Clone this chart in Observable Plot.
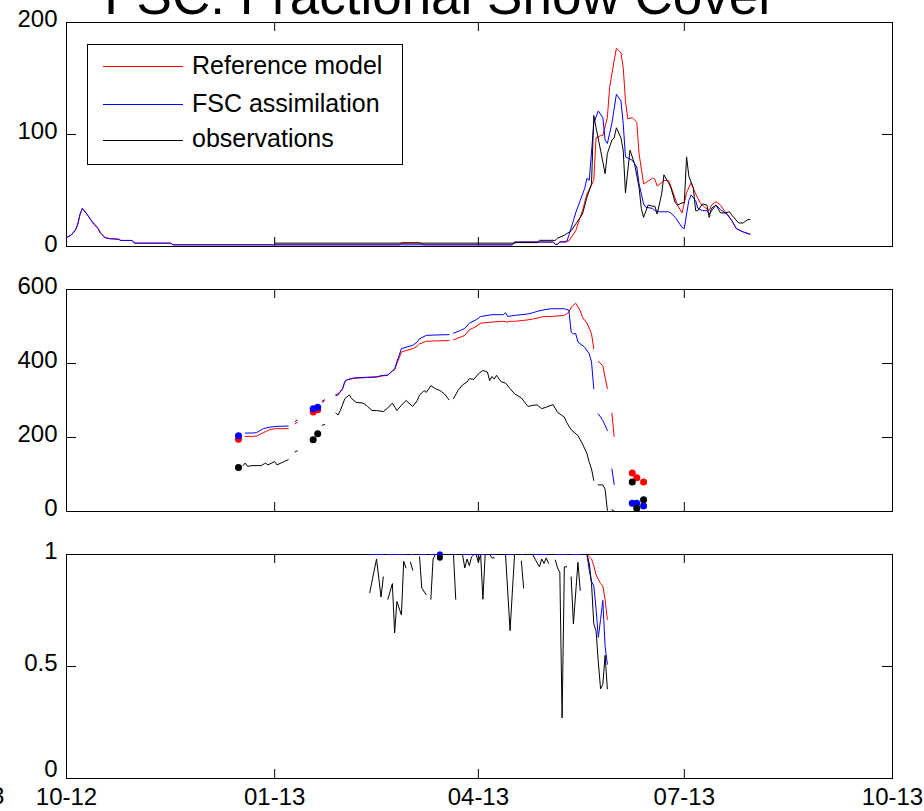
<!DOCTYPE html>
<html>
<head>
<meta charset="utf-8">
<script src="https://cdn.jsdelivr.net/npm/d3@7"></script>
<script src="https://cdn.jsdelivr.net/npm/@observablehq/plot@0.6"></script>
<style>
  html, body { margin: 0; padding: 0; background: #fff; }
  #fig { position: relative; width: 924px; height: 811px; overflow: hidden;
         font-family: "Liberation Sans", Arial, Helvetica, sans-serif; color: #000; }
  .panel { position: absolute; left: 0; }
  #title { position: absolute; left: 0; width: 880px; top: -31px; text-align: center;
           font-size: 53px; line-height: 53px; white-space: nowrap; z-index: 5; }
  #stray { position: absolute; left: -9px; top: 784px; font-size: 24px; line-height: 24px; }
  #legend { position: absolute; left: 87px; top: 44px; width: 314px; height: 119px;
            border: 1px solid #000; background: #fff; z-index: 4; }
  #legend .sw { position: absolute; left: 15px; width: 80px; height: 0; border-top: 1px solid; }
  #legend .lb { position: absolute; left: 104px; font-size: 25px; line-height: 25px; white-space: nowrap; }
</style>
</head>
<body>
<div id="fig">
  <div id="p1" class="panel" style="top:0px"></div>
  <div id="p2" class="panel" style="top:265px"></div>
  <div id="p3" class="panel" style="top:530px"></div>
  <div id="title">FSC: Fractional Snow Cover</div>
  <div id="stray">3</div>
  <div id="legend"></div>
</div>
<script>
// ---- axis settings ----
const axisDates = ["2012-10-01", "2013-01-01", "2013-04-01", "2013-07-01", "2013-10-01"];
const axisDateFormat = "%m-%y";
const dischargeTicks = [0, 100, 200];
const sweTicks = [0, 200, 400, 600];
const fscTicks = [0, 0.5, 1];

const seriesNames = ["Reference model", "FSC assimilation", "observations"];
const seriesColors = ["#ff0000", "#0000ff", "#000000"];

// ---- top panel: [date, value] ----
const dischargeRef = [
  ["2012-10-01",8],["2012-10-03",10],["2012-10-05",15],["2012-10-06",20],["2012-10-07",29],["2012-10-08",34],
  ["2012-10-10",29],["2012-10-12",23],["2012-10-13",21],["2012-10-15",16],["2012-10-16",12],["2012-10-18",8],
  ["2012-10-20",7],["2012-10-24",6.5],["2012-10-25",5.4],["2012-10-30",5.4],["2012-10-31",3],["2012-11-16",3],
  ["2012-11-17",1.5],["2013-02-25",1.5],["2013-02-26",3.5],["2013-03-06",3.5],["2013-03-08",1.5],["2013-04-16",1.5],
  ["2013-04-17",4],["2013-05-04",4],["2013-05-05",2],["2013-05-06",2],["2013-05-07",4],["2013-05-11",5],
  ["2013-05-14",14],["2013-05-17",32],["2013-05-19",47],["2013-05-22",59],["2013-05-23",97],["2013-05-25",99],
  ["2013-05-26",99],["2013-05-28",115],["2013-05-29",142],["2013-05-31",166],["2013-06-01",177],["2013-06-03",173],
  ["2013-06-04",160],["2013-06-05",130],["2013-06-06",114],["2013-06-08",115],["2013-06-10",111],["2013-06-11",83],
  ["2013-06-13",56],["2013-06-14",57],["2013-06-17",61],["2013-06-18",60],["2013-06-19",54],["2013-06-21",57],
  ["2013-06-22",59],["2013-06-24",59],["2013-06-25",54],["2013-06-28",37],["2013-06-30",30],["2013-07-02",48],
  ["2013-07-04",57],["2013-07-06",47],["2013-07-08",39],["2013-07-10",35],["2013-07-12",32],["2013-07-13",37],
  ["2013-07-15",40],["2013-07-17",37],["2013-07-19",31],["2013-07-22",23],["2013-07-24",16],["2013-07-27",13],
  ["2013-07-30",11]
];
const dischargeAssim = [
  ["2012-10-01",8],["2012-10-03",10],["2012-10-05",15],["2012-10-06",20],["2012-10-07",29],["2012-10-08",34],
  ["2012-10-10",29],["2012-10-12",23],["2012-10-13",20],["2012-10-15",16],["2012-10-16",12],["2012-10-18",8],
  ["2012-10-20",7],["2012-10-24",6.5],["2012-10-25",5.4],["2012-10-30",5.4],["2012-10-31",3],["2012-11-16",3],
  ["2012-11-17",1.5],["2013-04-16",1.5],["2013-04-17",4],["2013-05-04",4],["2013-05-05",2],["2013-05-06",2],
  ["2013-05-07",4],["2013-05-10",4],["2013-05-11",10],["2013-05-13",23],["2013-05-14",30],["2013-05-16",41],
  ["2013-05-18",52],["2013-05-19",61],["2013-05-20",59],["2013-05-22",110],["2013-05-24",121],["2013-05-26",115],
  ["2013-05-27",95],["2013-05-28",92],["2013-05-30",110],["2013-06-01",136],["2013-06-03",130],["2013-06-04",110],
  ["2013-06-05",80],["2013-06-08",77],["2013-06-10",71],["2013-06-11",56],["2013-06-13",38],["2013-06-14",35],
  ["2013-06-17",34],["2013-06-18",32],["2013-06-20",31],["2013-06-24",31],["2013-06-25",30],["2013-06-27",26],
  ["2013-06-30",17],["2013-07-01",16],["2013-07-02",29],["2013-07-03",41],["2013-07-04",46],["2013-07-06",41],
  ["2013-07-07",34],["2013-07-09",32],["2013-07-11",32],["2013-07-12",29],["2013-07-15",37],["2013-07-17",33],
  ["2013-07-19",30],["2013-07-20",29],["2013-07-22",23],["2013-07-24",16],["2013-07-27",13],["2013-07-30",11]
];
const dischargeObs = [
  ["2013-01-01",3],["2013-04-17",3],["2013-04-18",3.5],["2013-04-27",3.5],["2013-04-28",5.5],["2013-05-05",5.5],
  ["2013-05-06",7.5],["2013-05-09",10],["2013-05-12",14],["2013-05-14",20],["2013-05-17",29],["2013-05-19",44],
  ["2013-05-21",56],["2013-05-22",117],["2013-05-23",106],["2013-05-25",86],["2013-05-27",65],["2013-05-28",83],
  ["2013-05-30",95],["2013-05-31",97],["2013-06-01",106],["2013-06-03",97],["2013-06-04",86],["2013-06-05",48],
  ["2013-06-07",86],["2013-06-09",74],["2013-06-11",53],["2013-06-12",34],["2013-06-13",26],["2013-06-15",37],
  ["2013-06-17",36],["2013-06-18",36],["2013-06-19",29],["2013-06-21",47],["2013-06-22",64],["2013-06-24",57],
  ["2013-06-25",53],["2013-06-27",39],["2013-06-28",37],["2013-06-30",39],["2013-07-01",39],["2013-07-02",80],
  ["2013-07-03",63],["2013-07-05",52],["2013-07-06",32],["2013-07-07",32],["2013-07-09",38],["2013-07-11",37],
  ["2013-07-12",26],["2013-07-13",34],["2013-07-15",37],["2013-07-17",30],["2013-07-19",30],["2013-07-21",31],
  ["2013-07-22",28],["2013-07-25",21],["2013-07-27",21],["2013-07-29",24],["2013-07-30",24]
];

// ---- middle panel: snow water equivalent, [date, value]; null marks a missing day ----
const sweRef = [
  ["2012-12-19",203],["2012-12-22",203],["2012-12-24",204],["2012-12-27",213],["2012-12-30",222],["2013-01-02",224],
  ["2013-01-07",224],["2013-01-08",null],["2013-01-10",237],["2013-01-11",241],["2013-01-12",null],
  ["2013-01-22",295],["2013-01-23",299],["2013-01-24",null],
  ["2013-01-28",316],["2013-01-29",318],["2013-01-31",332],["2013-02-01",350],["2013-02-02",356],["2013-02-05",360],
  ["2013-02-11",362],["2013-02-15",363],["2013-02-17",366],["2013-02-20",368],["2013-02-22",380],["2013-02-23",383],
  ["2013-02-24",400],["2013-02-26",431],["2013-02-28",435],["2013-03-03",440],["2013-03-05",447],["2013-03-06",453],
  ["2013-03-09",460],["2013-03-13",461],["2013-03-19",462],["2013-03-20",null],["2013-03-21",464],["2013-03-24",471],
  ["2013-03-26",476],["2013-03-28",491],["2013-03-31",500],["2013-04-02",509],["2013-04-07",512],["2013-04-12",514],
  ["2013-04-14",512],["2013-04-15",514],["2013-04-17",514],["2013-04-23",518],["2013-04-25",520],["2013-04-27",523],
  ["2013-04-30",527],["2013-05-03",527],["2013-05-09",530],["2013-05-11",539],["2013-05-12",552],["2013-05-14",563],
  ["2013-05-16",543],["2013-05-17",525],["2013-05-19",509],["2013-05-21",480],["2013-05-22",440],["2013-05-23",null],
  ["2013-05-24",406],["2013-05-26",394],["2013-05-28",332],["2013-05-29",null],["2013-05-30",266],["2013-05-31",203]
];
const sweAssim = [
  ["2012-12-19",212],["2012-12-22",212],["2012-12-24",213],["2012-12-27",224],["2012-12-30",228],["2013-01-02",230],
  ["2013-01-07",231],["2013-01-08",null],["2013-01-10",243],["2013-01-11",247],["2013-01-12",null],
  ["2013-01-22",298],["2013-01-23",302],["2013-01-24",null],
  ["2013-01-28",313],["2013-01-29",315],["2013-01-31",332],["2013-02-01",352],["2013-02-02",356],["2013-02-05",361],
  ["2013-02-11",363],["2013-02-15",364],["2013-02-17",367],["2013-02-20",369],["2013-02-22",380],["2013-02-23",385],
  ["2013-02-24",405],["2013-02-26",440],["2013-02-28",444],["2013-03-03",449],["2013-03-05",458],["2013-03-06",467],
  ["2013-03-09",476],["2013-03-13",477],["2013-03-19",478],["2013-03-20",null],["2013-03-21",482],["2013-03-24",489],
  ["2013-03-26",495],["2013-03-28",509],["2013-03-31",518],["2013-04-02",527],["2013-04-07",532],["2013-04-12",532],
  ["2013-04-13",537],["2013-04-14",527],["2013-04-17",530],["2013-04-23",534],["2013-04-25",537],["2013-04-27",541],
  ["2013-04-30",545],["2013-05-03",548],["2013-05-09",548],["2013-05-11",544],["2013-05-12",485],["2013-05-13",480],
  ["2013-05-14",481],["2013-05-15",458],["2013-05-18",444],["2013-05-20",426],["2013-05-21",404],["2013-05-22",332],
  ["2013-05-23",null],["2013-05-24",264],["2013-05-26",246],["2013-05-28",219],["2013-05-29",null],
  ["2013-05-30",115],["2013-05-31",73]
];
const sweObs = [
  ["2012-12-18",124],["2012-12-19",131],["2012-12-20",122],["2012-12-22",124],["2012-12-26",124],["2012-12-28",131],
  ["2012-12-29",126],["2013-01-01",135],["2013-01-02",126],["2013-01-07",140],["2013-01-08",null],
  ["2013-01-10",161],["2013-01-11",164],["2013-01-12",null],["2013-01-22",233],["2013-01-23",235],["2013-01-24",null],
  ["2013-01-28",266],["2013-01-29",261],["2013-01-30",273],["2013-02-01",305],["2013-02-03",315],["2013-02-04",305],
  ["2013-02-06",295],["2013-02-09",293],["2013-02-11",284],["2013-02-13",273],["2013-02-15",273],["2013-02-18",270],
  ["2013-02-20",280],["2013-02-22",293],["2013-02-24",273],["2013-02-26",287],["2013-02-28",300],["2013-03-03",284],
  ["2013-03-05",300],["2013-03-06",314],["2013-03-08",327],["2013-03-09",322],["2013-03-11",340],["2013-03-13",332],
  ["2013-03-15",327],["2013-03-17",318],["2013-03-19",302],["2013-03-20",null],["2013-03-21",305],["2013-03-23",327],
  ["2013-03-25",342],["2013-03-27",350],["2013-03-28",359],["2013-03-30",357],["2013-04-01",372],["2013-04-03",381],
  ["2013-04-05",377],["2013-04-06",354],["2013-04-07",365],["2013-04-08",358],["2013-04-09",368],["2013-04-11",351],
  ["2013-04-13",347],["2013-04-15",332],["2013-04-17",318],["2013-04-20",307],["2013-04-22",291],["2013-04-23",284],
  ["2013-04-25",287],["2013-04-27",288],["2013-04-29",278],["2013-05-01",282],["2013-05-04",289],["2013-05-06",268],
  ["2013-05-09",255],["2013-05-10",241],["2013-05-12",221],["2013-05-15",205],["2013-05-17",183],["2013-05-19",156],
  ["2013-05-20",133],["2013-05-21",115],["2013-05-22",84],["2013-05-23",null],["2013-05-24",72],["2013-05-26",72],
  ["2013-05-27",60],["2013-05-28",3],["2013-05-29",null],["2013-05-30",5],["2013-05-31",1]
];
// isolated days, drawn as dots
const sweRefDots = [["2012-12-16",195],["2013-01-18",269],["2013-01-20",275],["2013-06-08",104],["2013-06-10",91],["2013-06-13",80]];
const sweAssimDots = [["2012-12-16",205],["2013-01-18",278],["2013-01-20",282],["2013-06-08",22],["2013-06-10",22],["2013-06-13",15]];
const sweObsDots = [["2012-12-16",119],["2013-01-18",194],["2013-01-20",210],["2013-06-08",80],["2013-06-10",9],["2013-06-13",32]];

// ---- bottom panel: fractional snow cover on shared dates; null rows are gaps ----
const fscDates = [
  "2013-02-12","2013-02-15","2013-02-17","2013-02-18","2013-02-19",
  "2013-02-20","2013-02-22","2013-02-23","2013-02-24","2013-02-26","2013-02-27","2013-02-28","2013-03-01",
  "2013-03-02","2013-03-03","2013-03-04",
  "2013-03-06","2013-03-07","2013-03-09","2013-03-10",
  "2013-03-11","2013-03-12","2013-03-13","2013-03-14",
  "2013-03-17","2013-03-21","2013-03-22","2013-03-23",
  "2013-03-25","2013-03-26","2013-03-27","2013-03-28","2013-03-29","2013-03-30","2013-03-31","2013-04-01",
  "2013-04-02","2013-04-03","2013-04-04","2013-04-06","2013-04-07","2013-04-08","2013-04-09",
  "2013-04-13","2013-04-15","2013-04-17","2013-04-18","2013-04-19",
  "2013-04-20","2013-04-21","2013-04-22",
  "2013-04-25","2013-04-26","2013-04-28","2013-04-29","2013-04-30","2013-05-01","2013-05-02","2013-05-03",
  "2013-05-05","2013-05-06","2013-05-07","2013-05-08","2013-05-09","2013-05-10","2013-05-11",
  "2013-05-12","2013-05-13","2013-05-15","2013-05-16","2013-05-17",
  "2013-05-19","2013-05-20","2013-05-21","2013-05-22","2013-05-23","2013-05-24","2013-05-25","2013-05-26",
  "2013-05-27","2013-05-28"
];
const fscObs = [
  0.83,0.98,0.81,0.90,null,
  0.80,0.87,0.65,0.79,0.73,0.97,0.94,null,
  0.965,0.93,null,
  0.99,0.85,0.82,null,
  0.80,0.98,1,null,
  1,1,0.80,null,
  1,0.94,0.98,0.95,0.99,1,1,0.965,
  1,0.80,1,1,0.985,0.985,null,
  1,0.66,1,1,null,
  0.97,0.85,null,
  1,0.98,0.945,0.98,0.96,0.985,0.96,null,
  0.975,0.94,0.92,0.27,0.945,0.945,null,
  0.90,0.69,0.965,0.84,null,
  1,0.96,0.87,0.69,0.66,0.52,0.40,0.42,
  0.55,0.40
];
const fscRef = [
  1,1,1,1,null,
  1,1,1,1,1,1,1,null,
  1,1,null,
  1,1,1,null,
  1,1,1,null,
  1,1,1,null,
  1,1,1,1,1,1,1,1,
  1,1,1,1,1,1,null,
  1,1,1,1,null,
  1,1,null,
  1,1,1,1,1,1,1,null,
  1,1,1,1,1,1,null,
  1,1,1,1,null,
  1,0.99,0.98,0.95,0.91,0.89,0.87,0.86,
  0.80,0.71
];
const fscAssim = [
  1,1,1,1,null,
  1,1,1,1,1,1,1,null,
  1,1,null,
  1,1,1,null,
  1,1,1,null,
  1,1,1,null,
  1,1,1,1,1,1,1,1,
  1,1,1,1,1,1,null,
  1,1,1,1,null,
  1,1,null,
  1,1,1,1,1,1,1,null,
  1,1,1,1,1,1,null,
  1,1,1,1,null,
  1,0.93,0.88,0.86,0.76,0.63,0.71,0.795,
  0.59,0.51
];
const fscDotDates = ["2013-03-15"];
const fscDotObs = [0.985];
const fscDotRef = [1];
const fscDotAssim = [1];

// ---- drawing ----
const parseDay = d3.utcParse("%Y-%m-%d");
const xTicks = axisDates.map(parseDay);
const xDomain = [xTicks[0], xTicks[xTicks.length - 1]];
const W = 924, ML = 66, MR = 32;

const pairX = d => parseDay(d[0]);
const pairY = d => d[1];

function lineOf(data, color) {
  return Plot.line(data, {x: pairX, y: pairY, stroke: color, strokeWidth: 1});
}
function dotsOf(data, color) {
  return Plot.dot(data, {x: pairX, y: pairY, fill: color, r: 3.5});
}

function panel(target, {height, marginTop, marginBottom, yDomain, yTicks, zeroDy, dateLabels, layers}) {
  const frameW = W - ML - MR;
  const frameH = height - marginTop - marginBottom;
  const yFormat = d => String(d);
  const marks = [
    Plot.frame({stroke: "#000", strokeWidth: 1}),
    // inward tick marks on all four sides
    Plot.tickX(xTicks, {x: d => d, insetTop: frameH - 9, stroke: "#000"}),
    Plot.tickX(xTicks, {x: d => d, insetBottom: frameH - 9, stroke: "#000"}),
    Plot.tickY(yTicks, {y: d => d, insetRight: frameW - 10, stroke: "#000"}),
    Plot.tickY(yTicks, {y: d => d, insetLeft: frameW - 10, stroke: "#000"}),
    // tick labels; the zero label sits a little higher than the others
    Plot.axisY(yTicks.filter(t => t !== 0), {anchor: "left", tickSize: 0, tickPadding: 9, dy: -3, tickFormat: yFormat}),
    Plot.axisY([0], {anchor: "left", tickSize: 0, tickPadding: 9, dy: zeroDy, tickFormat: yFormat}),
    ...layers
  ];
  if (dateLabels) {
    marks.push(Plot.axisX(xTicks, {anchor: "bottom", tickSize: 0, tickPadding: 9,
      tickFormat: d3.utcFormat(axisDateFormat)}));
  }
  const chart = Plot.plot({
    width: W, height, marginLeft: ML, marginRight: MR, marginTop, marginBottom,
    style: {fontFamily: '"Liberation Sans", Arial, Helvetica, sans-serif', fontSize: "24px",
            color: "#000", background: "transparent", overflow: "visible"},
    x: {type: "utc", domain: xDomain, axis: null},
    y: {domain: yDomain, axis: null},
    marks
  });
  document.getElementById(target).appendChild(chart);
}

panel("p1", {
  height: 265, marginTop: 22, marginBottom: 19,
  yDomain: [0, 200], yTicks: dischargeTicks, zeroDy: -2, dateLabels: false,
  layers: [
    lineOf(dischargeRef, seriesColors[0]),
    lineOf(dischargeAssim, seriesColors[1]),
    lineOf(dischargeObs, seriesColors[2])
  ]
});

panel("p2", {
  height: 265, marginTop: 24, marginBottom: 19,
  yDomain: [0, 600], yTicks: sweTicks, zeroDy: -3, dateLabels: false,
  layers: [
    lineOf(sweRef, seriesColors[0]),
    lineOf(sweAssim, seriesColors[1]),
    lineOf(sweObs, seriesColors[2]),
    dotsOf(sweRefDots, seriesColors[0]),
    dotsOf(sweAssimDots, seriesColors[1]),
    dotsOf(sweObsDots, seriesColors[2])
  ]
});

const fscRows = fscDates.map((d, i) => ({date: parseDay(d), ref: fscRef[i], assim: fscAssim[i], obs: fscObs[i]}));
const fscDotRows = fscDotDates.map((d, i) => ({date: parseDay(d), ref: fscDotRef[i], assim: fscDotAssim[i], obs: fscDotObs[i]}));
const fscKeys = ["ref", "assim", "obs"];

panel("p3", {
  height: 281, marginTop: 24, marginBottom: 33,
  yDomain: [0, 1], yTicks: fscTicks, zeroDy: -9, dateLabels: true,
  layers: [
    ...fscKeys.map((k, i) => Plot.line(fscRows, {x: "date", y: k, stroke: seriesColors[i], strokeWidth: 1})),
    ...fscKeys.map((k, i) => Plot.dot(fscDotRows, {x: "date", y: k, fill: seriesColors[i], r: 3}))
  ]
});

// legend box inside the top panel
const legend = document.getElementById("legend");
const swatchTops = [21, 59, 95];
const labelTops = [8, 46, 81];
seriesNames.forEach((name, i) => {
  const sw = document.createElement("div");
  sw.className = "sw";
  sw.style.top = swatchTops[i] + "px";
  sw.style.borderTopColor = seriesColors[i];
  legend.appendChild(sw);
  const lb = document.createElement("div");
  lb.className = "lb";
  lb.style.top = labelTops[i] + "px";
  lb.textContent = name;
  legend.appendChild(lb);
});
</script>
</body>
</html>
